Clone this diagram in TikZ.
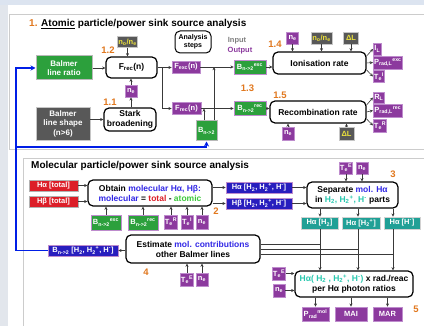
\documentclass[tikz,border=0pt]{standalone}
\usepackage{fontspec}
\setmainfont{Liberation Sans}
\usetikzlibrary{arrows.meta}
\definecolor{cpurple}{RGB}{140,58,158}
\definecolor{cpurpleL}{RGB}{190,140,205}
\definecolor{cgreen}{RGB}{44,160,60}
\definecolor{cdark}{RGB}{88,88,88}
\definecolor{cyellow}{RGB}{235,225,60}
\definecolor{cred}{RGB}{220,30,40}
\definecolor{cblueD}{RGB}{40,30,190}
\definecolor{cteal}{RGB}{32,160,150}
\definecolor{ctealT}{RGB}{40,200,175}
\definecolor{corange}{RGB}{225,120,30}
\definecolor{ctxtblue}{RGB}{50,40,230}
\definecolor{ctxtgreen}{RGB}{60,200,60}
\definecolor{cline}{RGB}{0,30,230}
\definecolor{cband}{RGB}{220,228,240}
\definecolor{cstrip}{RGB}{226,230,236}
\newcommand\sbx[1]{\textsubscript{#1}}
\newcommand\spx[1]{\textsuperscript{#1}}
\newcommand\Htwop{H\textsubscript{2}\textsuperscript{+}}
\begin{document}
\begin{tikzpicture}[x=1pt,y=-1pt,
  sz/.style 2 args={minimum width=#1pt,minimum height=#2pt},
  lbl/.style={inner sep=0.6pt,text=white,line width=0.7pt,
    font=\bfseries\fontsize{7.5}{8}\selectfont},
  pbox/.style={lbl,fill=cpurple,draw=cpurpleL},
  gpbox/.style={lbl,fill=cgreen,draw=cpurpleL},
  ggbox/.style={lbl,fill=cgreen,draw=gray!55,line width=1pt},
  dbox/.style={lbl,fill=cdark,draw=gray!45,text=cyellow},
  rbox/.style={lbl,fill=cred,draw=gray!60},
  bbox/.style={lbl,fill=cblueD,draw=cpurpleL},
  tbox/.style={lbl,fill=cteal,draw=gray!35},
  stepbox/.style={draw=black,line width=1.2pt,rounded corners=5pt,fill=white,
    align=center,inner sep=0.5pt,font=\bfseries\fontsize{8.5}{10}\selectfont},
  num/.style={text=corange,font=\bfseries\fontsize{9.5}{10}\selectfont,inner sep=0pt},
  conn/.style={draw=gray!45!black,line width=0.6pt,-{Stealth[length=3.2pt,width=3pt]}},
  plain/.style={draw=gray!45!black,line width=0.6pt},
  blueline/.style={draw=cline,line width=1.8pt,-{Stealth[length=5pt,width=5pt]}}]
\useasboundingbox (0,0) rectangle (424,326);
% page background, side strip and top band
\fill[white] (0,0) rectangle (424,326);
\fill[cstrip] (0,0) rectangle (8,326);
\fill[cband] (0,0) rectangle (424,5);
% panels
\draw[gray!40,line width=0.8pt,fill=white] (9,14) rectangle (430,149);
\draw[gray!40,line width=0.8pt,fill=white] (23,158) rectangle (430,335);

% ---------- atomic panel ----------
\node[anchor=west,inner sep=0pt,font=\bfseries\fontsize{10}{11}\selectfont] (t1) at (29,24)
  {\textcolor{corange}{1.} \underline{Atomic} particle/power sink source analysis};
\node[ggbox,sz={56}{24},align=center,font=\bfseries\fontsize{8}{9}\selectfont] (ratio) at (64,68) {Balmer\\line ratio};
\node[stepbox,sz={51}{21}] (frec) at (131.5,67.5) {F\sbx{rec}(n)};
\node[dbox,sz={16}{11}] (nona1) at (127.5,42) {n\sbx{o}/n\sbx{e}};
\node[num] (l12) at (108,50) {1.2};
\node[stepbox,line width=1pt,sz={36}{22},font=\bfseries\fontsize{7}{8}\selectfont] (steps) at (193,42) {Analysis\\steps};
\node[inner sep=0pt,text=gray,font=\bfseries\fontsize{7.5}{8}\selectfont] (inp) at (237,41) {Input};
\node[inner sep=0pt,text=cpurple,font=\bfseries\fontsize{7.5}{8}\selectfont] (outp) at (240,51) {Output};
\node[pbox,sz={28}{12}] (fexc) at (186,67) {F\sbx{exc}(n)};
\node[gpbox,sz={32}{14}] (bexc) at (250,67) {B\sbx{n->2}\spx{exc}};
\node[num] (l14) at (275,44) {1.4};
\node[pbox,sz={12}{12}] (ne1) at (292.5,38) {n\sbx{e}};
\node[dbox,sz={21}{12}] (nona2) at (321.5,38) {n\sbx{o}/n\sbx{e}};
\node[dbox,sz={15}{12}] (dl1) at (351,38) {ΔL};
\node[stepbox,sz={93}{22}] (ion) at (319.5,63) {Ionisation rate};
\node[pbox,anchor=west,sz={8}{12}] (il) at (373,49) {I\sbx{L}};
\node[pbox,anchor=west,sz={29}{13}] (pexc) at (373,62.5) {P\sbx{rad,L}\spx{exc}};
\node[pbox,anchor=west,sz={11}{12}] (tei) at (373,76.5) {T\sbx{e}\spx{I}};

\node[dbox,text=white,sz={54}{33},align=center,font=\bfseries\fontsize{8}{9.5}\selectfont] (shape) at (63,123.5) {Balmer\\line shape\\(n>6)};
\node[stepbox,sz={52}{23}] (stark) at (130,119.5) {Stark\\broadening};
\node[num] (l11) at (110,102) {1.1};
\node[pbox,sz={12}{12}] (ne2) at (131,91) {n\sbx{e}};
\node[pbox,sz={29}{12}] (frecp) at (186.5,108.5) {F\sbx{rec}(n)};
\node[ggbox,sz={21}{20}] (bn2) at (206.5,131) {B\sbx{n->2}};
\node[gpbox,sz={32}{14}] (brec) at (250,108.5) {B\sbx{n->2}\spx{rec}};
\node[num] (l13) at (247.5,88) {1.3};
\node[num] (l15) at (280,95) {1.5};
\node[stepbox,sz={96}{22}] (rec) at (318,112) {Recombination rate};
\node[pbox,sz={12}{13}] (ne3) at (288,133.5) {n\sbx{e}};
\node[dbox,sz={15}{13}] (dl2) at (346.5,133.5) {ΔL};
\node[pbox,anchor=west,sz={11}{11}] (rl) at (373,97.5) {R\sbx{L}};
\node[pbox,anchor=west,sz={29}{13}] (prec) at (373,110.5) {P\sbx{rad,L}\spx{rec}};
\node[pbox,anchor=west,sz={11}{13}] (ter) at (373,125.5) {T\sbx{e}\spx{R}};

% atomic connectors
\draw[conn] (nona1.south) -- (nona1.south |- frec.north);
\draw[conn] (ratio.east) -- (ratio.east -| frec.west);
\coordinate (fork) at (162,67.5);
\draw[plain] (frec.east) -- (fork);
\draw[conn] (fork) -- (fork -| fexc.west);
\draw[conn] (fork) |- (frecp.west);
\draw[conn] (fexc.east) -- (fexc.east -| bexc.west);
\draw[conn] (frecp.east) -- (brec.west);
\draw[conn] ([xshift=-2.5pt]bn2.north) -- ([xshift=-2.5pt]bn2.north |- frecp.east);
\draw[conn] ([xshift=7.5pt]bn2.north) -- ([xshift=7.5pt]bn2.north |- fexc.east);
\draw[conn] (bexc.east) -- (bexc.east -| ion.west);
\draw[conn] (brec.east) -- (brec.east -| rec.west);
\draw[conn] (ne1.south) -- (ne1.south |- ion.north);
\draw[conn] (nona2.south) -- (nona2.south |- ion.north);
\draw[conn] (dl1.south) -- (dl1.south |- ion.north);
\draw[conn] ([yshift=7pt]ion.east) -- (il.west);
\draw[conn] (ion.east) -- (pexc.west);
\draw[conn] ([yshift=-7pt]ion.east) -- (tei.west);
\draw[conn] ([yshift=7pt]rec.east) -- (rl.west);
\draw[conn] (rec.east) -- (prec.west);
\draw[conn] ([yshift=-7pt]rec.east) -- (ter.west);
\draw[conn] (ne3.north) -- (ne3.north |- rec.south);
\draw[conn] (dl2.north) -- (dl2.north |- rec.south);
\draw[conn] (shape.east |- stark.west) -- (stark.west);
\draw[conn] (stark.north -| ne2.south) -- (ne2.south);
\draw[conn] (ne2.north) -- (ne2.north |- frec.south);

% ---------- molecular panel ----------
\node[anchor=west,inner sep=0pt,font=\bfseries\fontsize{10}{11}\selectfont] (t2) at (31,166)
  {Molecular particle/power sink source analysis};
\node[rbox,sz={49}{11}] (hat) at (53.5,185.5) {Hα [total]};
\node[rbox,sz={49}{11}] (hbt) at (53.5,201.5) {Hβ [total]};
\node[stepbox,sz={124}{26}] (obtain) at (150,193)
  {Obtain \textcolor{ctxtblue}{molecular Hα, Hβ:}\\
   \textcolor{ctxtblue}{molecular} = \textcolor{cred}{total} - \textcolor{ctxtgreen}{atomic}};
\node[gpbox,sz={30}{15}] (bexc2) at (106,222.5) {B\sbx{n->2}\spx{exc}};
\node[gpbox,sz={30}{15}] (brec2) at (143,222.5) {B\sbx{n->2}\spx{rec}};
\node[pbox,sz={12}{14}] (ter2) at (171,222) {T\sbx{e}\spx{R}};
\node[pbox,sz={12}{14}] (tei2) at (187,222) {T\sbx{e}\spx{I}};
\node[pbox,sz={12}{14}] (ne4) at (202,222) {n\sbx{e}};
\node[num] (l2) at (216,211) {2};
\node[bbox,sz={66}{11}] (hamol) at (259,187.5) {Hα [H\sbx{2}, \Htwop, H\spx{-}]};
\node[bbox,sz={66}{11}] (hbmol) at (259,203.5) {Hβ [H\sbx{2}, \Htwop, H\spx{-}]};
\node[stepbox,sz={91}{26}] (sep) at (352.5,195)
  {Separate \textcolor{ctxtblue}{mol. Hα}\\
   in \textcolor{ctealT}{H\sbx{2}, \Htwop, H\spx{-}} parts};
\node[pbox,sz={12}{12}] (tee3) at (346,168) {T\sbx{e}\spx{E}};
\node[pbox,sz={12}{12}] (ne5) at (362,168) {n\sbx{e}};
\node[num] (l3) at (393,174) {3};
\node[tbox,sz={37}{12}] (th2) at (319.5,223) {Hα [H\sbx{2}]};
\node[tbox,sz={38}{12}] (th2p) at (361,223) {Hα [\Htwop]};
\node[tbox,sz={36}{12}] (thm) at (402,223) {Hα [H\spx{-}]};
\node[stepbox,sz={134}{28}] (est) at (193,249)
  {Estimate \textcolor{ctxtblue}{mol. contributions}\\ other Balmer lines};
\node[bbox,sz={70}{11}] (bnmol) at (83,250.5) {B\sbx{n->2} [H\sbx{2}, \Htwop, H\spx{-}]};
\node[num] (l4) at (146,272) {4};
\node[pbox,sz={12}{13}] (tee4) at (187,279.5) {T\sbx{e}\spx{E}};
\node[pbox,sz={12}{13}] (ne6) at (202,279.5) {n\sbx{e}};
\node[stepbox,sz={118}{26}] (fin) at (354,284)
  {\textcolor{ctealT}{Hα( H\sbx{2} , \Htwop, H\spx{-})} x rad./reac\\ per Hα photon ratios};
\node[pbox,sz={12}{13}] (tee5) at (279,273.5) {T\sbx{e}\spx{E}};
\node[pbox,sz={12}{13}] (ne7) at (279,290.5) {n\sbx{e}};
\node[pbox,sz={27}{14}] (pmol) at (315.5,314) {P\sbx{rad}\spx{mol}};
\node[pbox,sz={32}{14}] (mai) at (351,314) {MAI};
\node[pbox,sz={29}{14}] (mar) at (387.5,314) {MAR};
\node[num] (l5) at (416,309) {5};

% molecular connectors
\draw[conn] (hat.east) -- (hat.east -| obtain.west);
\draw[conn] (hbt.east) -- (hbt.east -| obtain.west);
\foreach \n in {bexc2,brec2,ter2,tei2,ne4}
  \draw[conn] (\n.north) -- (\n.north |- obtain.south);
\draw[conn] (obtain.east |- hamol.west) -- (hamol.west);
\draw[conn] (obtain.east |- hbmol.west) -- (hbmol.west);
\draw[conn] (hamol.east) -- (hamol.east -| sep.west);
\draw[conn] (hbmol.east) -- (hbmol.east -| sep.west);
\draw[conn] (tee3.south) -- (tee3.south |- sep.north);
\draw[conn] (ne5.south) -- (ne5.south |- sep.north);
\coordinate (c1) at (320,0);
\coordinate (c2) at (358,0);
\coordinate (c3) at (393,0);
\draw[conn] (c1 |- sep.south) -- (c1 |- th2.north);
\draw[conn] (c2 |- sep.south) -- (c2 |- th2p.north);
\draw[conn] (c3 |- sep.south) -- (c3 |- thm.north);
\draw[conn] (c1 |- th2.south) -- (c1 |- fin.north);
\draw[conn] (c2 |- th2p.south) -- (c2 |- fin.north);
\draw[conn] (c3 |- thm.south) -- (c3 |- fin.north);
\draw[plain] (c1 |- est.east) ++(0,-5) coordinate (j1) (j1) -- (j1 -| est.east);
\draw[plain] (c2 |- est.east) coordinate (j2) -- (j2 -| est.east);
\draw[plain] (c3 |- est.east) ++(0,5) coordinate (j3) (j3) -- (j3 -| est.east);
\draw[conn] (est.west |- bnmol.east) -- (bnmol.east);
\draw[conn] (tee4.north) -- (tee4.north |- est.south);
\draw[conn] (ne6.north) -- (ne6.north |- est.south);
\draw[conn] (tee5.east) -- (tee5.east -| fin.west);
\draw[conn] (ne7.east) -- (ne7.east -| fin.west);
\foreach \n in {pmol,mai,mar}
  \draw[conn] (\n.north |- fin.south) -- (\n.north);

% feedback of the molecular Balmer contributions
\coordinate (bx) at (16,147);
\draw[blueline] (bnmol.west) -- (bnmol.west -| bx) -- (bx |- ratio.west) -- (ratio.west);
\draw[blueline] (bx) -| (bn2.south);
\end{tikzpicture}
\end{document}
